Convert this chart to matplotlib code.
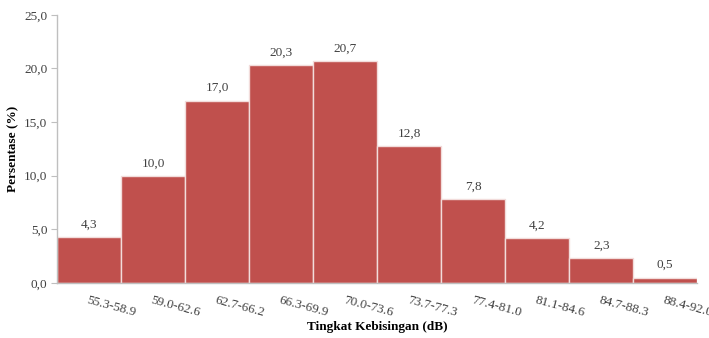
import matplotlib
matplotlib.use("Agg")
from matplotlib import pyplot as plt
import numpy as np

# data
categories = ["55.3-58.9", "59.0-62.6", "62.7-66.2", "66.3-69.9", "70.0-73.6",
              "73.7-77.3", "77.4-81.0", "81.1-84.6", "84.7-88.3", "88.4-92.0"]
percent = [4.3, 10.0, 17.0, 20.3, 20.7, 12.8, 7.8, 4.2, 2.3, 0.5]
yticks = [0, 5, 10, 15, 20, 25]

plt.rcParams['font.family'] = ['Liberation Serif', 'DejaVu Serif']
text_color = "#404040"

fig = plt.figure(figsize=(7.09, 3.38), dpi=100)
ax = fig.add_axes([0.0804, 0.163, 0.903, 0.793])

x = np.arange(len(categories))
ax.bar(x, percent, width=1.0, color="#C0504D", edgecolor="#F2DCDB", linewidth=1.0)

for xi, v in zip(x, percent):
    ax.text(xi, v + 0.6, f"{v:.1f}".replace(".", ","), ha="center", va="bottom",
            fontsize=9.5, color=text_color)

ax.set_xlim(-0.5, len(categories) - 0.5)
ax.set_ylim(0, 25)
ax.set_yticks(yticks)
ax.set_yticklabels([f"{t:.1f}".replace(".", ",") for t in yticks], fontsize=9.5, color=text_color)
ax.set_xticks(x)
ax.set_xticklabels(categories, rotation=-15, ha="left", rotation_mode="anchor",
                   fontsize=9.5, color=text_color)
ax.tick_params(axis="x", length=0, pad=8)
ax.tick_params(axis="y", length=4, color="#BFBFBF", pad=3)

for side in ["top", "right"]:
    ax.spines[side].set_visible(False)
for side in ["left", "bottom"]:
    ax.spines[side].set_color("#BFBFBF")
    ax.spines[side].set_linewidth(1.0)

ax.set_ylabel("Persentase (%)", fontsize=9.5, fontweight="bold", color="black", labelpad=3)
fig.text(377 / 709, 1 - 327 / 338, "Tingkat Kebisingan (dB)", ha="center", va="center",
         fontsize=9.5, fontweight="bold", color="black")

fig.savefig("out.png", dpi=100)
